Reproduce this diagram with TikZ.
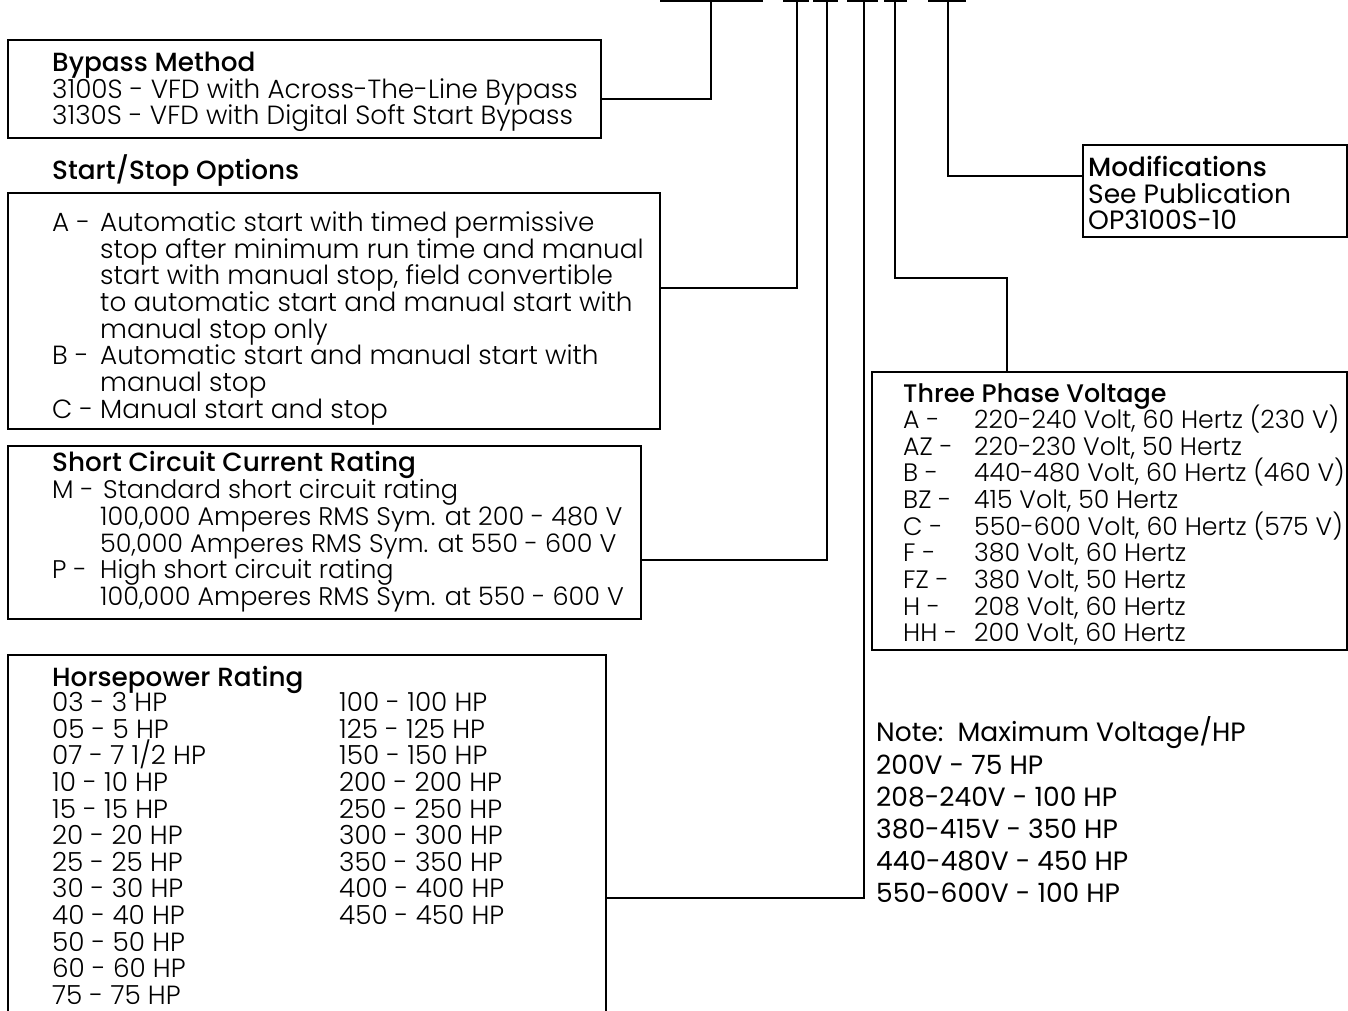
\documentclass[tikz,border=0pt]{standalone}
\usepackage{fontspec}
\setmainfont{Poppins}
\newfontfamily\lightf{Poppins Light}
\newfontfamily\medf{Poppins Medium}
\newfontfamily\regf{Poppins}
\begin{document}
\begin{tikzpicture}[x=1pt,y=-1pt,
  box/.style={draw=black, line width=2pt, inner sep=0pt, outer sep=0pt, anchor=north west},
  conn/.style={draw=black, line width=2pt},
  bodyt/.style={anchor=base west, inner sep=0pt, font=\lightf\fontsize{26.3}{26}\selectfont},
  scct/.style={anchor=base west, inner sep=0pt, font=\lightf\fontsize{25.5}{26}\selectfont},
  voltt/.style={anchor=base west, inner sep=0pt, font=\lightf\fontsize{25.2}{26}\selectfont},
  titlet/.style={anchor=base west, inner sep=0pt, font=\medf\fontsize{26.3}{26}\selectfont},
  vtitlet/.style={anchor=base west, inner sep=0pt, font=\medf\fontsize{25.4}{26}\selectfont},
  regt/.style={anchor=base west, inner sep=0pt, font=\regf\fontsize{26.5}{28}\selectfont}]
\fill[white] (0,0) rectangle (1348,1011);
\useasboundingbox (0,0) rectangle (1348,1011);
\begin{scope}[overlay]
% code underline segments
\foreach \sa/\sb in {660/763,783/809,813/838,847/878,884/907,928/966}
  \draw[conn] (\sa,1) -- (\sb,1);
\coordinate (u1) at (711,1);
\coordinate (u2) at (797,1);
\coordinate (u3) at (827,1);
\coordinate (u4) at (864,1);
\coordinate (u5) at (895,1);
\coordinate (u6) at (948,1);

% boxes
\node[box, minimum width=593pt, minimum height=98pt] (bypass) at (8,40) {};
\node[box, minimum width=652pt, minimum height=236pt] (ss) at (8,193) {};
\node[box, minimum width=633pt, minimum height=173pt] (scc) at (8,446) {};
\node[box, draw=none, minimum width=598pt, minimum height=356pt] (hp) at (8,655) {};
\draw[conn] (hp.south west) -- (hp.north west) -- (hp.north east) -- (hp.south east);
\node[box, minimum width=475pt, minimum height=278pt] (volt) at (872,372) {};
\node[box, minimum width=264pt, minimum height=92pt] (mods) at (1083,145) {};

% connectors
\coordinate (b1) at (711,99);
\coordinate (b2) at (797,288);
\coordinate (b3) at (827,560);
\coordinate (b4) at (864,898);
\coordinate (b5) at (895,278);
\coordinate (c5) at (1007,278);
\coordinate (b6) at (948,176);
\draw[conn] (u1) -- (b1) -- (bypass.east |- b1);
\draw[conn] (u2) -- (b2) -- (ss.east |- b2);
\draw[conn] (u3) -- (b3) -- (scc.east |- b3);
\draw[conn] (u4) -- (b4) -- (hp.east |- b4);
\draw[conn] (u5) -- (b5) -- (c5) -- (volt.north -| c5);
\draw[conn] (u6) -- (b6) -- (mods.west |- b6);

% Bypass
\node[titlet] (t1) at (52,72) {Bypass Method};
\node[bodyt] (t1a) at (52,98.3) {3100S - VFD with Across-The-Line Bypass};
\node[bodyt] (t1b) at (52,125) {3130S - VFD with Digital Soft Start Bypass};

% Start/Stop
\node[titlet] (t2) at (52,179) {Start/Stop Options};
\node[bodyt] (s0a) at (52,231.3) {A -};
\node[bodyt] (s0) at (100,231.3) {Automatic start with timed permissive};
\node[bodyt] (s1) at (100,258) {stop after minimum run time and manual};
\node[bodyt] (s2) at (100,284.7) {start with manual stop, field convertible};
\node[bodyt] (s3) at (100,311.4) {to automatic start and manual start with};
\node[bodyt] (s4) at (100,338.1) {manual stop only};
\node[bodyt] (s5a) at (52,364.8) {B -};
\node[bodyt] (s5) at (100,364.8) {Automatic start and manual start with};
\node[bodyt] (s6) at (100,391.5) {manual stop};
\node[bodyt] (s7a) at (52,418.2) {C -};
\node[bodyt] (s7) at (100,418.2) {Manual start and stop};

% Short circuit
\node[titlet] (t3) at (52,471.5) {Short Circuit Current Rating};
\node[scct] (c1a) at (52,498.7) {M -};
\node[scct] (c1) at (103,498.7) {Standard short circuit rating};
\node[scct] (c2) at (100,525.5) {100,000 Amperes RMS Sym. at 200 - 480 V};
\node[scct] (c3) at (100,552.2) {50,000 Amperes RMS Sym. at 550 - 600 V};
\node[scct] (c4a) at (52,578.9) {P -};
\node[scct] (c4) at (100,578.9) {High short circuit rating};
\node[scct] (c5t) at (100,605.5) {100,000 Amperes RMS Sym. at 550 - 600 V};

% Horsepower
\node[titlet] (t4) at (52,686) {Horsepower Rating};
\node[bodyt] (hpa0) at (52,711.7) {03 - 3 HP};
\node[bodyt] (hpa1) at (52,738.3) {05 - 5 HP};
\node[bodyt] (hpa2) at (52,764.9) {07 - 7 1/2 HP};
\node[bodyt] (hpa3) at (52,791.5) {10 - 10 HP};
\node[bodyt] (hpa4) at (52,818.1) {15 - 15 HP};
\node[bodyt] (hpa5) at (52,844.7) {20 - 20 HP};
\node[bodyt] (hpa6) at (52,871.3) {25 - 25 HP};
\node[bodyt] (hpa7) at (52,897.9) {30 - 30 HP};
\node[bodyt] (hpa8) at (52,924.5) {40 - 40 HP};
\node[bodyt] (hpa9) at (52,951.1) {50 - 50 HP};
\node[bodyt] (hpa10) at (52,977.7) {60 - 60 HP};
\node[bodyt] (hpa11) at (52,1004.3) {75 - 75 HP};
\node[bodyt] (hpb0) at (339,711.7) {100 - 100 HP};
\node[bodyt] (hpb1) at (339,738.3) {125 - 125 HP};
\node[bodyt] (hpb2) at (339,764.9) {150 - 150 HP};
\node[bodyt] (hpb3) at (339,791.5) {200 - 200 HP};
\node[bodyt] (hpb4) at (339,818.1) {250 - 250 HP};
\node[bodyt] (hpb5) at (339,844.7) {300 - 300 HP};
\node[bodyt] (hpb6) at (339,871.3) {350 - 350 HP};
\node[bodyt] (hpb7) at (339,897.9) {400 - 400 HP};
\node[bodyt] (hpb8) at (339,924.5) {450 - 450 HP};

% Voltage
\node[vtitlet] (t5) at (903,402.2) {Three Phase Voltage};
\node[voltt] (va0) at (903,428.3) {A -};
\node[voltt] (va1) at (903,455) {AZ -};
\node[voltt] (va2) at (903,481.7) {B -};
\node[voltt] (va3) at (903,508.3) {BZ -};
\node[voltt] (va4) at (903,535) {C -};
\node[voltt] (va5) at (903,561.7) {F -};
\node[voltt] (va6) at (903,588.3) {FZ -};
\node[voltt] (va7) at (903,615) {H -};
\node[voltt] (va8) at (903,641.7) {HH -};
\node[voltt] (vb0) at (974,428.3) {220-240 Volt, 60 Hertz (230 V)};
\node[voltt] (vb1) at (974,455) {220-230 Volt, 50 Hertz};
\node[voltt] (vb2) at (974,481.7) {440-480 Volt, 60 Hertz (460 V)};
\node[voltt] (vb3) at (974,508.3) {415 Volt, 50 Hertz};
\node[voltt] (vb4) at (974,535) {550-600 Volt, 60 Hertz (575 V)};
\node[voltt] (vb5) at (974,561.7) {380 Volt, 60 Hertz};
\node[voltt] (vb6) at (974,588.3) {380 Volt, 50 Hertz};
\node[voltt] (vb7) at (974,615) {208 Volt, 60 Hertz};
\node[voltt] (vb8) at (974,641.7) {200 Volt, 60 Hertz};

% Modifications
\node[titlet] (t6) at (1088,177) {Modifications};
\node[regt] (m1) at (1088,203.5) {See Publication};
\node[regt] (m2) at (1088,229.5) {OP3100S-10};

% Note
\node[regt] (n0) at (876,741) {Note:\ \ Maximum Voltage/HP};
\node[regt] (n1) at (876,774) {200V - 75 HP};
\node[regt] (n2) at (876,806.2) {208-240V - 100 HP};
\node[regt] (n3) at (876,838.3) {380-415V - 350 HP};
\node[regt] (n4) at (876,870.2) {440-480V - 450 HP};
\node[regt] (n5) at (876,902) {550-600V - 100 HP};
\end{scope}
\end{tikzpicture}
\end{document}
